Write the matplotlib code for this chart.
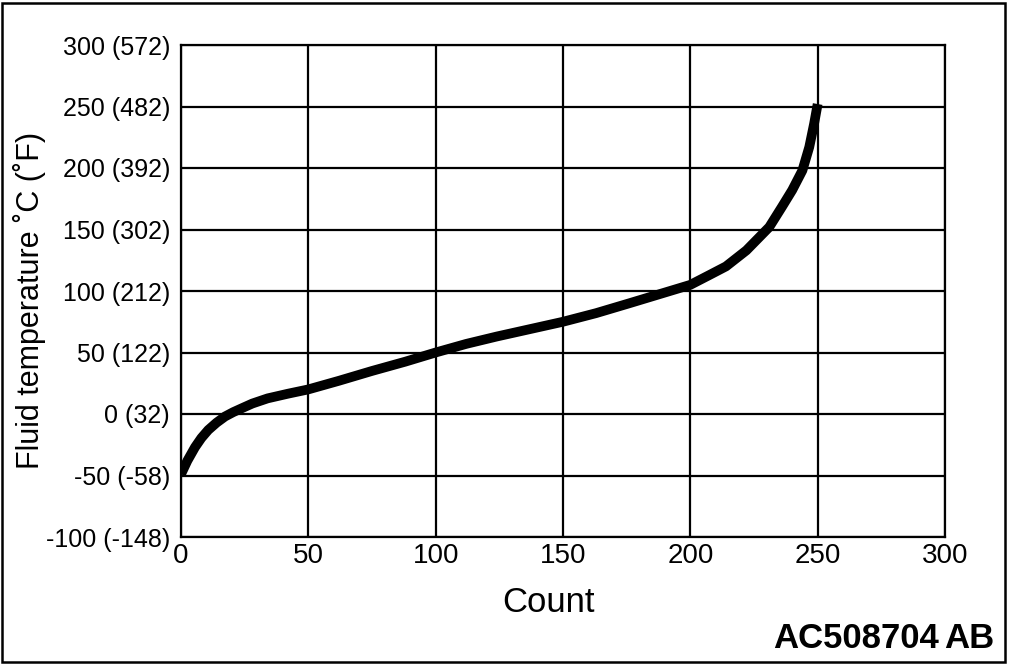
import matplotlib
matplotlib.use("Agg")
import matplotlib.pyplot as plt
from matplotlib.patches import Rectangle

plt.rcParams['font.family'] = ['Liberation Sans', 'DejaVu Sans']

count = [0, 2.5, 5.5, 8, 10.7, 14, 17.3, 20.5, 23.8, 28, 34, 42, 50, 62, 75, 88, 100, 112,
         124, 137, 150, 163, 176, 188, 200, 207.5, 214, 222, 231, 236, 240, 244, 246.7,
         248.6, 250]
temp_c = [-49, -38, -27, -19.5, -13, -7, -2, 1.5, 4.6, 8.5, 12.7, 16.5, 20, 27, 35, 42.5, 50,
          57, 63, 69, 75, 82, 90, 97.5, 105, 113, 120, 133, 152, 168.5, 182, 198, 217,
          236, 252]

x_ticks = [0, 50, 100, 150, 200, 250, 300]
y_ticks = [-100, -50, 0, 50, 100, 150, 200, 250, 300]
y_tick_labels = ["-100 (-148)", "-50 (-58)", "0 (32)", "50 (122)", "100 (212)",
                 "150 (302)", "200 (392)", "250 (482)", "300 (572)"]

fig = plt.figure(figsize=(10.1, 6.64), dpi=100)
ax = fig.add_axes([181/1010, 1-537/664, (945-181)/1010, (537-45)/664])

ax.plot(count, temp_c, color='black', linewidth=7, solid_capstyle='butt',
        solid_joinstyle='round', zorder=3)

ax.set_xlim(0, 300)
ax.set_ylim(-100, 300)
ax.set_xticks(x_ticks)
ax.set_yticks(y_ticks)
ax.set_yticklabels(y_tick_labels)
ax.grid(True, color='black', linewidth=1.6)
ax.tick_params(length=0)
ax.tick_params(axis='x', labelsize=20, pad=4)
ax.tick_params(axis='y', labelsize=18, pad=8)
for s in ax.spines.values():
    s.set_linewidth(1.6)
    s.set_color('black')

ax.set_xlabel("Count", fontsize=25)
ax.xaxis.set_label_coords((548-181)/(945-181), -(602-537)/(537-45))
ax.xaxis.label.set_va('center')
ax.set_ylabel("Fluid temperature ˚C (˚F)", fontsize=22)
ax.yaxis.set_label_coords(-(181-29)/(945-181), (537-300)/(537-45))
ax.yaxis.label.set_va('center')

fig.text(939/1010, 1-638/664, "AC508704", fontsize=25, fontweight='bold',
         ha='right', va='center')
fig.text(994/1010, 1-638/664, "AB", fontsize=25, fontweight='bold',
         ha='right', va='center')

fig.patches.append(Rectangle((2/1010, 2/664), 1003/1010, 659/664, transform=fig.transFigure,
                             fill=False, edgecolor='black', linewidth=1.8))

fig.savefig("out.png", dpi=100)
